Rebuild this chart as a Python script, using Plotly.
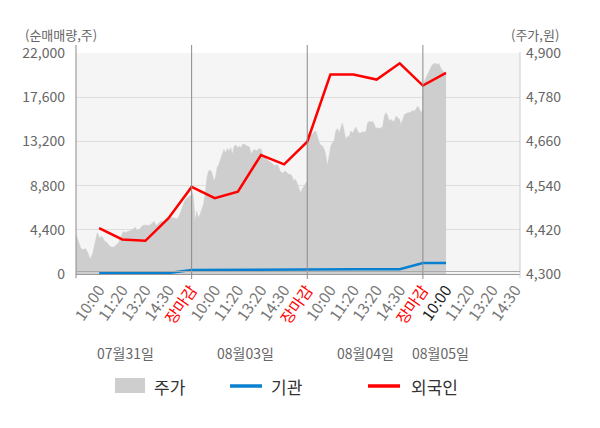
import plotly.graph_objects as go

# ---------------- data ----------------
dates = ["07월31일", "08월03일", "08월04일", "08월05일"]
time_labels = ["10:00", "11:20", "13:20", "14:30", "장마감"]

# net buying (shares) at each time label, 07/31 10:00 ... 08/05 10:00
foreign = [4565, 3441, 3308, 5558, 8668,
           7543, 8205, 11844, 10917, 13167,
           19850, 19850, 19353, 20975, 18758,
           20015]
institution = [100, 100, 100, 100, 400,
               420, 420, 420, 420, 450,
               480, 480, 480, 480, 1100,
               1100]

# intraday price (won), sampled evenly through each session
price_0731 = [4408, 4386, 4370, 4366, 4369, 4358, 4340, 4354, 4386, 4412,
              4398, 4402, 4390, 4386, 4378, 4373, 4373, 4378, 4384, 4400,
              4415, 4413, 4416, 4418, 4420, 4427, 4419, 4422, 4430, 4433,
              4432, 4432, 4436, 4443, 4432, 4438, 4443, 4441, 4447, 4452,
              4454, 4453, 4452, 4450, 4462, 4480, 4498, 4506, 4510, 4515]
price_0803 = [4525, 4512, 4444, 4471, 4453, 4462, 4476, 4490, 4517, 4562,
              4580, 4582, 4575, 4553, 4562, 4589, 4598, 4611, 4625, 4638,
              4629, 4641, 4634, 4643, 4625, 4647, 4650, 4643, 4647, 4643,
              4652, 4652, 4649, 4647, 4645, 4625, 4634, 4638, 4634, 4638,
              4641, 4638, 4620, 4616, 4611, 4607, 4604, 4602, 4598, 4593,
              4598, 4593, 4580, 4575, 4575, 4580, 4575, 4571, 4571, 4566,
              4553, 4557, 4548, 4535, 4521, 4530, 4539, 4544, 4553]
price_0804 = [4679, 4683, 4681, 4679, 4686, 4688, 4676, 4658, 4650, 4648,
              4640, 4625, 4593, 4625, 4647, 4656, 4661, 4688, 4695, 4683,
              4697, 4710, 4688, 4665, 4674, 4672, 4688, 4683, 4690, 4699,
              4688, 4683, 4683, 4686, 4685, 4686, 4710, 4715, 4713, 4715,
              4706, 4695, 4697, 4695, 4697, 4699, 4729, 4738, 4729, 4715,
              4720, 4715, 4715, 4729, 4724, 4720, 4706, 4720, 4733, 4735,
              4738, 4738, 4742, 4744, 4742, 4749, 4756, 4747, 4738, 4747]
price_0805 = [4814, 4825, 4836, 4845, 4858, 4866, 4870, 4873, 4868, 4872,
              4860, 4852, 4848, 4846]   # up to 10:00

# ---------------- build ----------------
SLOTS = len(time_labels)           # category slots per trading day
day_prices = [price_0731, price_0803, price_0804, price_0805]
day_cover = [1.0, 1.0, 1.0, 1 / SLOTS]   # share of session shown

px_x, px_y = [], []
for d, (vals, cov) in enumerate(zip(day_prices, day_cover)):
    n = len(vals)
    for i, v in enumerate(vals):
        px_x.append(d * SLOTS + SLOTS * cov * i / (n - 1))
        px_y.append(v)

flow_x = list(range(1, len(foreign) + 1))

tickvals, ticktext = [], []
for d in range(len(dates)):
    for k, lab in enumerate(time_labels):
        pos = d * SLOTS + k + 1
        if pos > 19:
            continue
        if lab == "장마감":
            txt = f"<span style='color:#ff0000'>{lab}</span>"
        elif pos == len(foreign):
            txt = f"<span style='color:#222222'>{lab}</span>"
        else:
            txt = lab
        tickvals.append(pos)
        ticktext.append(txt)

FONT = "Noto Sans CJK KR"
OFF = 8                                # page body margin
FIG_W, FIG_H = 600 - OFF, 428 - OFF
L, R, T, B = 76, 520, 53, 274          # plot area in page pixels
W, H = R - L, B - T


def fx(x):
    return (x - L) / W


def fy(y):
    return (B - y) / H


fig = go.Figure()
fig.add_trace(go.Scatter(x=px_x, y=px_y, mode="lines", fill="tozeroy",
                         fillcolor="#cecece", line=dict(color="#cecece", width=0.5),
                         yaxis="y", showlegend=False, hoverinfo="skip"))
fig.add_trace(go.Scatter(x=flow_x, y=institution, mode="lines",
                         line=dict(color="#0a80d0", width=2.5),
                         yaxis="y2", showlegend=False))
fig.add_trace(go.Scatter(x=flow_x, y=foreign, mode="lines",
                         line=dict(color="#ff0000", width=2.5),
                         yaxis="y2", showlegend=False))

shapes = []
for b in (5, 10, 15):
    shapes.append(dict(type="line", xref="x", yref="paper", x0=b, x1=b,
                       y0=fy(279), y1=fy(45), line=dict(color="#8a8a8a", width=1)))
shapes.append(dict(type="line", xref="paper", yref="paper", x0=0, x1=0,
                   y0=fy(278), y1=fy(45), line=dict(color="#8a8a8a", width=1)))
shapes.append(dict(type="line", xref="paper", yref="paper", x0=1, x1=1,
                   y0=fy(278), y1=fy(52), line=dict(color="#cccccc", width=1)))
shapes.append(dict(type="line", xref="paper", yref="paper", x0=0, x1=1,
                   y0=fy(271.5), y1=fy(271.5), line=dict(color="#aaaaaa", width=1)))
# legend
shapes.append(dict(type="rect", xref="paper", yref="paper", x0=fx(115), x1=fx(145),
                   y0=fy(393), y1=fy(378), fillcolor="#cecece", line=dict(width=0)))
shapes.append(dict(type="line", xref="paper", yref="paper", x0=fx(230), x1=fx(262),
                   y0=fy(386), y1=fy(386), line=dict(color="#0a80d0", width=3.5)))
shapes.append(dict(type="line", xref="paper", yref="paper", x0=fx(368), x1=fx(400),
                   y0=fy(386), y1=fy(386), line=dict(color="#ff0000", width=3.5)))

ann = []
ann.append(dict(text="(순매매량,주)", xref="paper", yref="paper", x=fx(61), y=fy(34),
                xanchor="center", yanchor="middle", showarrow=False,
                font=dict(size=13, color="#666666")))
ann.append(dict(text="(주가,원)", xref="paper", yref="paper", x=fx(535), y=fy(34),
                xanchor="center", yanchor="middle", showarrow=False,
                font=dict(size=13, color="#666666")))
for name, cx in zip(dates, (125, 245, 365, 440)):
    ann.append(dict(text=name, xref="paper", yref="paper", x=fx(cx), y=fy(353),
                    xanchor="center", yanchor="middle", showarrow=False,
                    font=dict(size=14, color="#666666")))
for name, lx in (("주가", 152), ("기관", 269), ("외국인", 409)):
    ann.append(dict(text=name, xref="paper", yref="paper", x=fx(lx), y=fy(386),
                    xanchor="left", yanchor="middle", showarrow=False,
                    font=dict(size=17, color="#333333")))

fig.update_layout(
    width=FIG_W, height=FIG_H,
    margin=dict(l=L - OFF, r=FIG_W - (R - OFF), t=T - OFF, b=FIG_H - (B - OFF),
                pad=0, autoexpand=False),
    paper_bgcolor="#ffffff", plot_bgcolor="#f5f5f5",
    font=dict(family=FONT, color="#666666", size=14),
    showlegend=False,
    xaxis=dict(range=[0, 19.2], tickmode="array", tickvals=tickvals, ticktext=ticktext,
               tickangle=-55, tickfont=dict(size=15.5, color="#777777"),
               showgrid=False, zeroline=False, showline=True, linecolor="#999999",
               linewidth=1, ticks="", automargin=False),
    yaxis=dict(side="right", range=[4300, 4900],
               tickvals=[4300, 4420, 4540, 4660, 4780, 4900], tickformat=",",
               showgrid=True, gridcolor="#dddddd", zeroline=False, showline=False,
               ticks="", tickfont=dict(size=14, color="#666666"), ticklabelstandoff=5,
               automargin=False),
    yaxis2=dict(side="left", overlaying="y", range=[0, 22000],
                tickvals=[0, 4400, 8800, 13200, 17600, 22000], tickformat=",",
                showgrid=False, zeroline=False, showline=False, ticks="",
                tickfont=dict(size=14, color="#666666"), ticklabelstandoff=10,
                automargin=False),
    shapes=shapes, annotations=ann,
)

fig.write_html("out.html")
